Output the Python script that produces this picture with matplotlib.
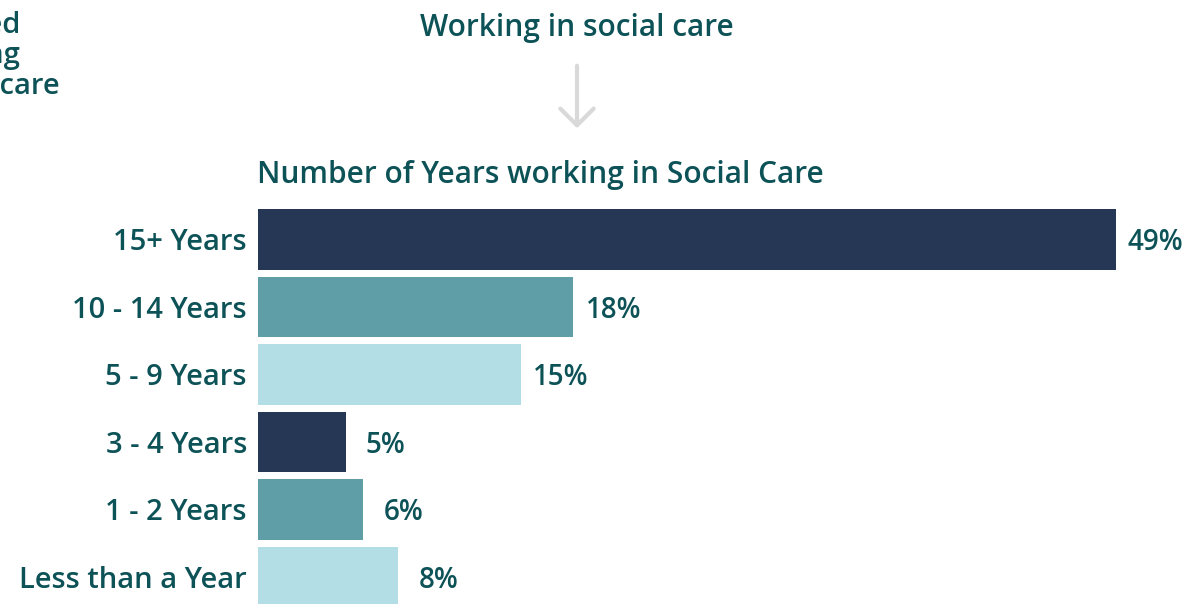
import matplotlib
matplotlib.use("Agg")
import matplotlib.pyplot as plt

# ---- data ----
categories = ["15+ Years", "10 - 14 Years", "5 - 9 Years", "3 - 4 Years", "1 - 2 Years", "Less than a Year"]
values = [49, 18, 15, 5, 6, 8]
bar_colors = ["#253755", "#5f9ea7", "#b3dee5", "#253755", "#5f9ea7", "#b3dee5"]

title = "Working in social care"
subtitle = "Number of Years working in Social Care"
side_lines = ["Years employed", "and working", "in social care"]

TEXT = "#0c5257"
W, H = 1203, 604

plt.rcParams["font.family"] = ["Open Sans", "DejaVu Sans"]

fig = plt.figure(figsize=(W / 100, H / 100), dpi=100)

# bar panel, bottom row runs past the lower edge
ax = fig.add_axes([258 / W, 0, 1 - 258 / W, (H - 209) / H])
ypos = list(range(len(categories)))
ax.barh(ypos, values, height=0.9, color=bar_colors)
ax.set_xlim(0, 54)
ax.set_ylim(5.40, -0.452)
ax.set_xticks([])
ax.set_yticks([])
for s in ax.spines.values():
    s.set_visible(False)

# category names to the left, values to the right of each bar
for y, v, name in zip(ypos, values, categories):
    ax.annotate(name, (0, y), xytext=(-8, -2.5), textcoords="offset points",
                ha="right", va="center", fontsize=21, color=TEXT,
                fontweight="semibold", annotation_clip=False)
    ax.annotate(f"{v}%", (v, y), xytext=(29, -2.5), textcoords="offset points",
                ha="center", va="center", fontsize=20, color=TEXT,
                fontweight="semibold", annotation_clip=False)

# headings
fig.text(577 / W, 1 - 28 / H, title, ha="center", va="center",
         fontsize=21.5, color=TEXT, fontweight="semibold")
fig.text(257 / W, 1 - 175 / H, subtitle, ha="left", va="center",
         fontsize=21.5, color=TEXT, fontweight="semibold")

# down arrow under the heading
fig.add_artist(matplotlib.patches.FancyArrowPatch(
    (577 / W, 1 - 63 / H), (577 / W, 1 - 131 / H), transform=fig.transFigure,
    arrowstyle="->,head_length=6,head_width=6", color="#d9d9d9", lw=3,
    mutation_scale=2))

# side heading running off the left edge
for txt, xr, yc in zip(side_lines, [20, 20, 60], [25, 56, 87]):
    fig.text(xr / W, 1 - yc / H, txt, ha="right", va="center",
             fontsize=21, color=TEXT, fontweight="semibold")

fig.savefig("out.png", dpi=100)
